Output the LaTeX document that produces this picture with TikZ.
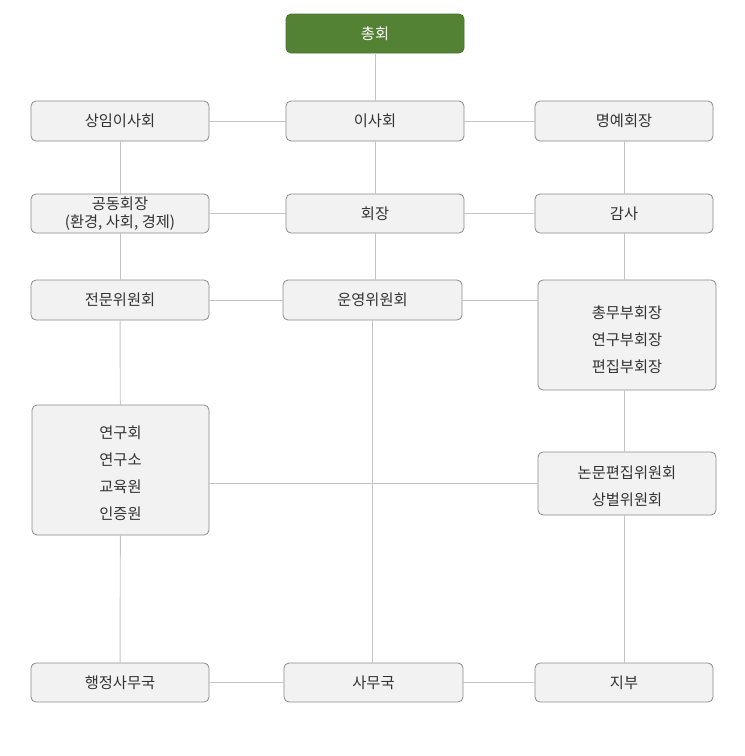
\documentclass[tikz,border=0pt]{standalone}
\usepackage{fontspec}
\setmainfont{Noto Sans CJK KR}
\definecolor{boxfill}{HTML}{F2F2F2}
\definecolor{boxline}{HTML}{8A8A8A}
\definecolor{conn}{HTML}{C4C4C4}
\definecolor{txt}{HTML}{333333}
\definecolor{topgreen}{HTML}{548235}
\definecolor{topline}{HTML}{4A7230}
\newcommand\loweredtext[2]{\raisebox{-#1}[\height][\depth]{\begin{tabular}{@{}c@{}}#2\end{tabular}}}
\begin{document}
\begin{tikzpicture}[x=1pt,y=-1pt,
  orgbox/.style={draw=boxline,fill=boxfill,rounded corners=5pt,line width=0.8pt,
    minimum width=178pt,minimum height=40pt,inner sep=0pt,align=center,
    text=txt,font=\fontsize{15.3}{27}\selectfont},
  topbox/.style={orgbox,draw=topline,fill=topgreen,text=white},
  link/.style={draw=conn,line width=0.9pt}]
\useasboundingbox (0,0) rectangle (745,756);
\node[topbox,minimum height=39pt] (chong) at (375,33.5) {총회};
\node[orgbox] (sangim) at (120,121) {상임이사회};
\node[orgbox] (isa) at (375,121) {이사회};
\node[orgbox] (myeong) at (624,121) {명예회장};
\node[orgbox,minimum height=39pt,font=\fontsize{15.3}{18}\selectfont] (gong) at (120,213.5) {공동회장\\(환경, 사회, 경제)};
\node[orgbox,minimum height=39pt] (hoe) at (375,213.5) {회장};
\node[orgbox,minimum height=39pt] (gam) at (624,213.5) {감사};
\node[orgbox] (jeon) at (120,300) {전문위원회};
\node[orgbox,minimum width=179pt] (un) at (372.5,300) {운영위원회};
\node[orgbox,minimum height=110pt] (bu) at (627,335) {\loweredtext{5pt}{총무부회장\\연구부회장\\편집부회장}};
\node[orgbox,minimum height=63pt] (non) at (627,483.5) {\loweredtext{3pt}{논문편집위원회\\상벌위원회}};
\node[orgbox,minimum width=177pt,minimum height=130pt] (yeon) at (120.5,470) {\loweredtext{3.5pt}{연구회\\연구소\\교육원\\인증원}};
\node[orgbox,minimum height=39pt] (haeng) at (120,682.5) {행정사무국};
\node[orgbox,minimum width=179pt,minimum height=39pt] (sam) at (373.5,682.5) {사무국};
\node[orgbox,minimum height=39pt] (ji) at (624,682.5) {지부};
% connectors
\draw[link] (chong) -- (isa);
\draw[link] (sangim) -- (isa);
\draw[link] (isa) -- (myeong);
\draw[link] (sangim) -- (gong);
\draw[link] (isa) -- (hoe);
\draw[link] (myeong) -- (gam);
\draw[link] (gong) -- (hoe);
\draw[link] (hoe) -- (gam);
\draw[link] (gong) -- (jeon);
\draw[link] (hoe.south) -- (hoe.south |- un.north);
\draw[link] (gam.south) -- (gam.south |- bu.north);
\draw[link] (jeon) -- (un);
\draw[link] (un.east) -- (un.east -| bu.west);
\draw[link] (jeon) -- (yeon);
\draw[link] (gam.south |- bu.south) -- (gam.south |- non.north);
\draw[link] (non.west) -- (non.west -| yeon.east);
\draw[link] (un.south) -- (un.south |- sam.north);
\draw[link] (yeon) -- (haeng);
\draw[link] (gam.south |- non.south) -- (gam.south |- ji.north);
\draw[link] (haeng) -- (sam);
\draw[link] (sam) -- (ji);
\end{tikzpicture}
\end{document}
